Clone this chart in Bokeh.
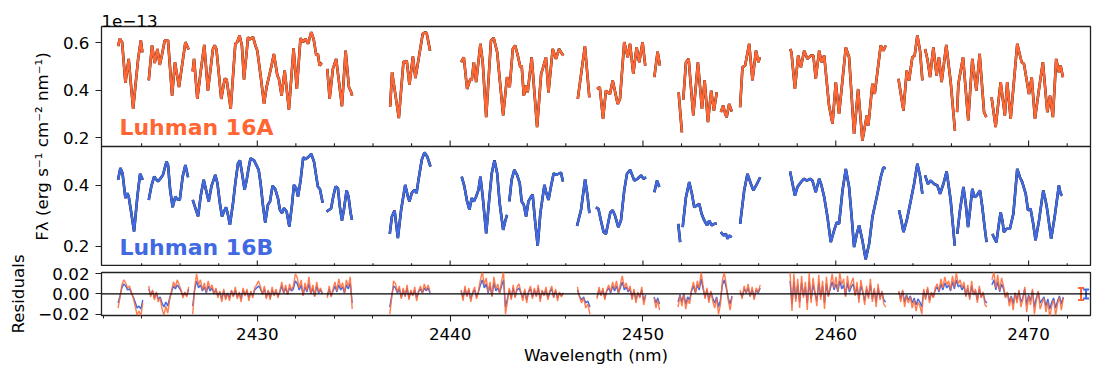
import numpy as np
from bokeh.plotting import figure
from bokeh.models import (Range1d, FixedTicker, SingleIntervalTicker, Label, Span, Title,
                          Whisker, ColumnDataSource, TeeHead)
from bokeh.layouts import column, row
from bokeh.embed import file_html
from bokeh.resources import INLINE

ORANGE = "#FF6633"
BLUE = "#4169E1"
FONT = "DejaVu Sans"
EDGE = "#222222"

# ---------------- data: Luhman 16A (top panel), flux in 1e-13 units ----------------
waveA = [
    [2422.78, 2422.87, 2422.99, 2423.16, 2423.33, 2423.56, 2423.82, 2423.96, 2424.04],
    [2424.37, 2424.54, 2424.68, 2424.82, 2424.94, 2425.03, 2425.20, 2425.37, 2425.58, 2425.73, 2425.94, 2426.27, 2426.44],
    [2426.65, 2426.72, 2426.89, 2427.06, 2427.25, 2427.44, 2427.70, 2427.79, 2427.88, 2428.13, 2428.31, 2428.41, 2428.62,
     2428.86, 2428.96, 2429.08, 2429.20, 2429.31, 2429.52, 2429.60, 2429.78, 2429.90, 2430.00, 2430.17, 2430.35, 2430.48,
     2430.72, 2430.86, 2431.04, 2431.12, 2431.26, 2431.42, 2431.64, 2431.88, 2432.05, 2432.24, 2432.37, 2432.50, 2432.63,
     2432.80, 2432.92, 2433.06, 2433.14, 2433.23, 2433.35],
    [2433.63, 2433.75, 2433.92, 2434.09, 2434.39, 2434.58, 2434.75, 2434.87, 2434.92],
    [2436.89, 2436.99, 2437.34, 2437.58, 2437.69, 2437.75, 2437.89, 2438.07, 2438.20, 2438.58, 2438.72, 2438.79, 2438.96],
    [2440.57, 2440.71, 2440.88, 2441.05, 2441.12, 2441.23, 2441.35, 2441.57, 2441.69, 2441.87, 2442.12, 2442.26, 2442.44,
     2442.75, 2442.95, 2443.09, 2443.25, 2443.37, 2443.51, 2443.64, 2443.71, 2443.82, 2443.94, 2444.02, 2444.23, 2444.51,
     2444.72, 2444.80, 2444.97, 2445.10, 2445.32, 2445.49, 2445.65, 2445.75, 2445.87],
    [2446.62, 2446.99, 2447.22],
    [2447.62, 2447.76, 2447.93, 2448.08, 2448.29, 2448.43, 2448.69, 2448.81, 2449.03, 2449.21, 2449.33, 2449.50, 2449.67,
     2449.81, 2449.98, 2450.12],
    [2450.59, 2450.76, 2450.88],
    [2451.85, 2452.02],
    [2452.09, 2452.23, 2452.37, 2452.61, 2452.85, 2453.06, 2453.20, 2453.37, 2453.54, 2453.68, 2453.83],
    [2454.04, 2454.16, 2454.27, 2454.34, 2454.47, 2454.61],
    [2455.04, 2455.16, 2455.30, 2455.51, 2455.68, 2455.86, 2455.99, 2456.06],
    [2457.63, 2457.70, 2457.88, 2458.05, 2458.19, 2458.36, 2458.53, 2458.70, 2458.84, 2458.96, 2459.14, 2459.26, 2459.40,
     2459.65, 2459.83, 2460.00, 2460.17, 2460.52, 2460.69, 2460.95, 2461.16, 2461.38, 2461.61, 2461.69, 2461.90, 2462.02,
     2462.33, 2462.47, 2462.59],
    [2463.25, 2463.51, 2463.68, 2463.80, 2463.97, 2464.09, 2464.23, 2464.37, 2464.49],
    [2464.63, 2464.75, 2464.89, 2465.06, 2465.23, 2465.35, 2465.49, 2465.73, 2465.96, 2466.18],
    [2466.29, 2466.36, 2466.60, 2466.87, 2467.08, 2467.29, 2467.46, 2467.69, 2467.81],
    [2468.08, 2468.29, 2468.55, 2468.77, 2468.89, 2469.07, 2469.41, 2469.64, 2469.76, 2470.02, 2470.16, 2470.33, 2470.54,
     2470.74, 2470.97, 2471.11, 2471.26, 2471.43, 2471.57, 2471.66, 2471.78],
]
fluxA = [
    [0.586, 0.617, 0.603, 0.431, 0.532, 0.321, 0.532, 0.610, 0.560],
    [0.441, 0.589, 0.515, 0.574, 0.507, 0.539, 0.610, 0.610, 0.377, 0.518, 0.413, 0.603, 0.572],
    [0.479, 0.532, 0.363, 0.476, 0.591, 0.398, 0.574, 0.589, 0.574, 0.363, 0.448, 0.445, 0.321,
     0.596, 0.603, 0.631, 0.589, 0.445, 0.624, 0.614, 0.624, 0.589, 0.567, 0.462, 0.342, 0.413,
     0.497, 0.553, 0.462, 0.448, 0.377, 0.483, 0.318, 0.577, 0.405, 0.620, 0.603, 0.617, 0.596,
     0.645, 0.617, 0.546, 0.553, 0.504, 0.515],
    [0.490, 0.363, 0.490, 0.532, 0.332, 0.567, 0.413, 0.391, 0.377],
    [0.331, 0.476, 0.282, 0.521, 0.518, 0.525, 0.422, 0.543, 0.451, 0.638, 0.645, 0.638, 0.567],
    [0.518, 0.539, 0.405, 0.448, 0.441, 0.518, 0.434, 0.596, 0.518, 0.286, 0.610, 0.620, 0.560,
     0.293, 0.455, 0.413, 0.574, 0.589, 0.546, 0.497, 0.504, 0.377, 0.420, 0.391, 0.539, 0.244,
     0.469, 0.490, 0.539, 0.391, 0.574, 0.532, 0.574, 0.560, 0.546],
    [0.363, 0.586, 0.370],
    [0.405, 0.413, 0.279, 0.398, 0.384, 0.441, 0.342, 0.363, 0.603, 0.539, 0.596, 0.469, 0.581,
     0.518, 0.603, 0.504],
    [0.455, 0.563, 0.504],
    [0.391, 0.222],
    [0.360, 0.518, 0.532, 0.293, 0.518, 0.321, 0.441, 0.265, 0.398, 0.314, 0.391],
    [0.307, 0.335, 0.300, 0.286, 0.342, 0.310],
    [0.328, 0.497, 0.504, 0.596, 0.441, 0.567, 0.518, 0.539],
    [0.574, 0.560, 0.405, 0.546, 0.497, 0.567, 0.532, 0.546, 0.546, 0.448, 0.567, 0.518, 0.546,
     0.335, 0.258, 0.434, 0.300, 0.581, 0.539, 0.215, 0.405, 0.187, 0.293, 0.251, 0.427, 0.384,
     0.589, 0.567, 0.589],
    [0.448, 0.314, 0.483, 0.441, 0.539, 0.546, 0.631, 0.567, 0.441],
    [0.574, 0.532, 0.455, 0.581, 0.462, 0.539, 0.434, 0.591, 0.434, 0.229],
    [0.307, 0.427, 0.539, 0.272, 0.532, 0.398, 0.553, 0.307, 0.286],
    [0.370, 0.244, 0.434, 0.293, 0.434, 0.279, 0.596, 0.518, 0.511, 0.384, 0.455, 0.279, 0.405,
     0.518, 0.307, 0.377, 0.286, 0.532, 0.476, 0.504, 0.455],
]

# ---------------- data: Luhman 16B (middle panel) ----------------
waveB = [
    [2422.78, 2422.90, 2423.01, 2423.16, 2423.26, 2423.33, 2423.44, 2423.61, 2423.78, 2423.92, 2424.06],
    [2424.37, 2424.51, 2424.65, 2424.77, 2424.85, 2424.99, 2425.11, 2425.29, 2425.37, 2425.48, 2425.61, 2425.75,
     2425.85, 2425.98, 2426.13, 2426.27, 2426.41],
    [2426.65, 2426.79, 2426.93, 2427.06, 2427.22, 2427.36, 2427.48, 2427.62, 2427.82, 2427.93, 2428.07, 2428.17,
     2428.27, 2428.38, 2428.48, 2428.58, 2428.74, 2428.86, 2429.00, 2429.10, 2429.21, 2429.34, 2429.45, 2429.55,
     2429.65, 2429.83, 2429.97, 2430.07, 2430.17, 2430.29, 2430.41, 2430.55, 2430.66, 2430.79, 2430.93, 2431.07,
     2431.17, 2431.28, 2431.38, 2431.52, 2431.66, 2431.80, 2431.90, 2432.02, 2432.11, 2432.25, 2432.38, 2432.49,
     2432.63, 2432.80, 2432.94, 2433.06, 2433.14, 2433.25, 2433.39],
    [2433.59, 2433.73, 2433.83, 2433.94, 2434.06, 2434.18, 2434.28, 2434.39, 2434.49, 2434.63, 2434.73, 2434.84,
     2434.91],
    [2436.87, 2436.98, 2437.12, 2437.29, 2437.46, 2437.67, 2437.81, 2437.89, 2438.01, 2438.15, 2438.26, 2438.36,
     2438.53, 2438.67, 2438.81, 2438.98],
    [2440.60, 2440.74, 2440.88, 2441.00, 2441.12, 2441.23, 2441.35, 2441.47, 2441.57, 2441.69, 2441.87, 2442.04,
     2442.16, 2442.30, 2442.44, 2442.57, 2442.75, 2442.85, 2442.95],
    [2443.07, 2443.19, 2443.33, 2443.47, 2443.61, 2443.71, 2443.82, 2443.94, 2444.06, 2444.20, 2444.28, 2444.40,
     2444.54, 2444.68, 2444.89, 2444.99, 2445.10, 2445.23, 2445.37, 2445.49, 2445.61, 2445.75, 2445.85],
    [2446.58, 2446.79, 2447.00, 2447.13, 2447.22],
    [2447.56, 2447.69, 2447.82, 2447.96, 2448.08, 2448.31, 2448.43, 2448.55, 2448.72, 2448.86, 2449.03, 2449.17,
     2449.34, 2449.55, 2449.72, 2449.90, 2450.03, 2450.16],
    [2450.59, 2450.73, 2450.85],
    [2451.83, 2451.93],
    [2452.06, 2452.23, 2452.40, 2452.54, 2452.66, 2452.80, 2452.92, 2453.04, 2453.18, 2453.32, 2453.44, 2453.56,
     2453.70, 2453.83],
    [2454.04, 2454.18, 2454.30, 2454.39, 2454.47, 2454.60],
    [2455.04, 2455.25, 2455.42, 2455.60, 2455.73, 2455.91, 2456.08],
    [2457.63, 2457.76, 2457.88, 2458.01, 2458.19, 2458.36, 2458.50, 2458.67, 2458.79, 2458.96, 2459.14, 2459.26,
     2459.40, 2459.57, 2459.74, 2459.91, 2460.05, 2460.17, 2460.35, 2460.52, 2460.69, 2460.81, 2460.95, 2461.09,
     2461.21, 2461.38, 2461.55, 2461.73, 2461.90, 2462.16, 2462.33, 2462.47, 2462.59],
    [2463.28, 2463.40, 2463.51, 2463.68, 2463.89, 2464.06, 2464.23, 2464.37, 2464.49],
    [2464.63, 2464.78, 2464.92, 2465.10, 2465.27, 2465.41, 2465.58, 2465.75, 2465.96, 2466.17],
    [2466.30, 2466.44, 2466.62, 2466.74, 2466.86, 2466.96, 2467.08, 2467.20, 2467.31, 2467.48, 2467.60, 2467.72,
     2467.82],
    [2468.12, 2468.24, 2468.33, 2468.46, 2468.55, 2468.64, 2468.72, 2468.86, 2469.03, 2469.21, 2469.33, 2469.41,
     2469.55, 2469.67, 2469.85, 2469.97, 2470.10, 2470.24, 2470.36, 2470.54, 2470.76, 2470.88, 2470.97, 2471.17,
     2471.35, 2471.57, 2471.66, 2471.74],
]
fluxB = [
    [0.418, 0.456, 0.439, 0.358, 0.374, 0.363, 0.320, 0.249, 0.363, 0.437, 0.418],
    [0.352, 0.398, 0.428, 0.418, 0.412, 0.423, 0.434, 0.477, 0.466, 0.385, 0.328, 0.363, 0.354, 0.352, 0.428,
     0.466, 0.426],
    [0.352, 0.325, 0.298, 0.363, 0.418, 0.379, 0.347, 0.396, 0.434, 0.407, 0.336, 0.298, 0.314, 0.328, 0.303,
     0.271, 0.341, 0.407, 0.472, 0.481, 0.439, 0.385, 0.418, 0.456, 0.488, 0.481, 0.463, 0.450, 0.407, 0.336,
     0.278, 0.336, 0.347, 0.398, 0.387, 0.358, 0.320, 0.309, 0.325, 0.314, 0.265, 0.336, 0.401, 0.390, 0.363,
     0.418, 0.491, 0.485, 0.491, 0.502, 0.477, 0.428, 0.396, 0.387, 0.343],
    [0.314, 0.320, 0.325, 0.363, 0.396, 0.390, 0.330, 0.285, 0.320, 0.383, 0.363, 0.309, 0.287],
    [0.241, 0.298, 0.317, 0.227, 0.320, 0.401, 0.363, 0.347, 0.374, 0.385, 0.374, 0.418, 0.483, 0.507, 0.494,
     0.461],
    [0.428, 0.396, 0.347, 0.320, 0.358, 0.347, 0.363, 0.385, 0.428, 0.363, 0.243, 0.363, 0.439, 0.481, 0.439,
     0.341, 0.254, 0.281, 0.303],
    [0.347, 0.418, 0.450, 0.434, 0.407, 0.347, 0.336, 0.298, 0.347, 0.363, 0.369, 0.287, 0.202, 0.309, 0.401,
     0.374, 0.352, 0.396, 0.439, 0.434, 0.437, 0.441, 0.412],
    [0.267, 0.320, 0.420, 0.363, 0.309],
    [0.328, 0.323, 0.285, 0.247, 0.241, 0.312, 0.318, 0.301, 0.263, 0.285, 0.383, 0.437, 0.450, 0.415, 0.421,
     0.432, 0.421, 0.426],
    [0.377, 0.415, 0.394],
    [0.274, 0.214],
    [0.263, 0.361, 0.410, 0.372, 0.328, 0.334, 0.339, 0.307, 0.285, 0.269, 0.285, 0.269, 0.274, 0.274],
    [0.247, 0.236, 0.241, 0.225, 0.236, 0.230],
    [0.274, 0.383, 0.437, 0.404, 0.383, 0.404, 0.426],
    [0.445, 0.404, 0.366, 0.394, 0.410, 0.421, 0.415, 0.421, 0.415, 0.377, 0.421, 0.399, 0.361, 0.296, 0.214,
     0.252, 0.279, 0.274, 0.383, 0.453, 0.394, 0.307, 0.198, 0.241, 0.269, 0.220, 0.158, 0.209, 0.296, 0.372,
     0.426, 0.458, 0.455],
    [0.318, 0.285, 0.247, 0.285, 0.350, 0.404, 0.470, 0.430, 0.372],
    [0.432, 0.404, 0.415, 0.404, 0.399, 0.372, 0.404, 0.445, 0.350, 0.203],
    [0.241, 0.318, 0.394, 0.339, 0.263, 0.318, 0.388, 0.361, 0.366, 0.383, 0.328, 0.263, 0.214],
    [0.241, 0.225, 0.214, 0.274, 0.312, 0.285, 0.247, 0.258, 0.258, 0.307, 0.394, 0.453, 0.426, 0.410, 0.372,
     0.318, 0.323, 0.274, 0.220, 0.285, 0.383, 0.350, 0.318, 0.225, 0.296, 0.399, 0.372, 0.366],
]

# ---------------- residuals (units of 1e-3 x 1e-13), read evenly across each chunk ----------------
resid_chunks = [
    (2422.78, 2424.06), (2424.37, 2426.44), (2426.65, 2433.38), (2433.63, 2434.92), (2436.87, 2438.96),
    (2440.57, 2445.87), (2446.60, 2447.25), (2447.62, 2450.14), (2450.58, 2450.86), (2451.82, 2454.62),
    (2455.04, 2456.08), (2457.63, 2462.59), (2463.27, 2467.84), (2468.10, 2471.80),
]
residA = [
    [-14, -4, 9, 14, 11, 6, 8, 2, -4, -12, -21, -17, -22, -9],
    [8, -3, 4, -6, 2, -8, -4, -15, -21, -12, -19, -6, 3, 12, 7, 14, 9, 4, -4, 2, -3, 7],
    [-20, 6, 20, 9, 14, 4, 11, 2, 13, 5, 9, 0, 6, -4, 3, -8, 5, -6, 1, -7, 4, -3, 7, -5, 2, -8, 6, -2,
     5, -7, 3, -4, 6, 9, 13, 7, -1, 8, -5, 4, -6, 7, -2, 5, -4, 3, 12, 1, 9, -1, 10, 4, 8, 20, 16, 6,
     14, -2, 11, 3, 17, 0, 9, -3, 12, 2, 6, 0],
    [-4, 8, -3, 5, 12, 3, 15, 6, 11, 1, 14, 7, 17, -15],
    [-20, -4, 13, 10, 2, 8, -5, 6, -3, 9, -6, 4, -2, 7, -7, 3, 8, 1, 10, 4, 9, 2],
    [4, -7, 8, -3, 6, -8, 2, 7, -5, 3, 14, 22, 9, 16, 2, 12, -3, 17, 5, 10, 1, 13, 22, -20, -8, 6, -6,
     9, -4, 7, 10, 2, -7, 5, -9, 3, 8, -5, 6, -3, 9, -8, 4, -2, 7, -6, 3, 8, -4, 5, -7, 2, -3, 1],
    [7, -3, -9, -4, -14, -10, -20],
    [-5, 7, -2, 6, -6, 4, 9, 2, 12, 5, 13, 1, 10, 18, 6, 11, 3, 8, -6, 5, -9, 2, -4, 7, -11, -2],
    [-4, -14, -6, -16],
    [-13, -2, -12, 0, -15, -5, -10, 4, 12, 1, 13, 6, 22, 8, -5, 6, -9, 3, -7, -14, -4, -20, -10, 14, 21,
     9, -6, -16, -3],
    [4, -5, 8, 1, 10, -3, 7, -6, 6, 2, 9],
    [22, -17, 20, -8, 15, -14, 18, -4, 12, -16, 21, -9, 16, 2, -12, 19, -6, 13, -15, 17, -3, 8, 20, 6,
     17, 3, 21, 9, 15, -3, 18, 4, 11, 16, -2, 12, -9, 14, 3, -11, 8, -5, 15, -8, 6, -13, 10, -6, 3, -10,
     -13],
    [3, -8, 4, -13, -2, -9, -3, -14, -6, -17, -8, -12, -20, 5, -6, 7, -9, 2, -4, 6, 10, 3, 15, 6, 17, 9,
     13, 4, 18, 7, 21, 10, 14, 6, 12, -3, 9, -6, 13, -1, 5, -9, 8, -4, 2, -11, -13],
    [14, 22, 6, 19, 3, 16, 8, -4, 2, -12, -3, -16, 1, -9, 4, -13, -6, 7, -18, -2, -11, 5, -20, -7, 3,
     -15, -9, -4, -18, -8, -23, -12, -6, -21, -10, -3, -16, -4],
]
residB = [
    [-9, -2, 6, 10, 8, 4, 5, 1, -3, -8, -14, -12, -15, -6],
    [5, -1, 3, -4, 1, -5, -3, -9, -13, -8, -12, -4, 2, 8, 5, 9, 6, 3, -2, 1, -2, 5],
    [-12, 4, 13, 6, 9, 3, 7, 1, 8, 3, 6, 0, 4, -2, 2, -5, 3, -4, 1, -4, 3, -2, 4, -3, 1, -5, 4, -1,
     3, -4, 2, -2, 4, 6, 8, 5, 0, 5, -3, 3, -4, 4, -1, 3, -2, 2, 8, 1, 6, 0, 6, 3, 5, 13, 10, 4,
     9, -1, 7, 2, 10, 0, 6, -2, 8, 1, 4, 0],
    [-2, 5, -2, 3, 8, 2, 9, 4, 7, 1, 9, 5, 11, -9],
    [-13, -2, 8, 6, 1, 5, -3, 4, -2, 6, -4, 3, -1, 4, -4, 2, 5, 1, 6, 3, 6, 1],
    [3, -4, 5, -2, 4, -5, 1, 4, -3, 2, 9, 14, 6, 10, 1, 8, -2, 11, 3, 6, 1, 8, 14, -13, -5, 4, -4,
     6, -3, 4, 6, 1, -4, 3, -6, 2, 5, -3, 4, -2, 6, -5, 3, -1, 4, -4, 2, 5, -3, 3, -4, 1, -2, 1],
    [4, -2, -6, -3, -9, -7, -13],
    [-3, 4, -1, 4, -4, 3, 6, 1, 8, 3, 8, 1, 6, 12, 4, 7, 2, 5, -4, 3, -6, 1, -3, 4, -7, -1],
    [-3, -9, -4, -10],
    [-8, -1, -8, 0, -10, -3, -6, 3, 8, 1, 9, 4, 15, 5, -3, 4, -6, 2, -4, -9, -3, -13, -6, 9, 14, 6, -4,
     -10, -2],
    [2, -3, 5, 1, 6, -2, 4, -4, 4, 1, 6],
    [13, -10, 12, -5, 9, -8, 11, -2, 7, -9, 12, -5, 9, 1, -7, 11, -3, 8, -9, 10, -2, 5, 12, 4, 10, 2,
     13, 5, 9, -2, 11, 2, 7, 10, -1, 7, -5, 8, 2, -7, 5, -3, 9, -5, 4, -8, 6, -4, 2, -6, -8],
    [2, -5, 3, -8, -1, -6, -2, -9, -4, -11, -5, -8, -13, 3, -4, 5, -6, 1, -3, 4, 7, 2, 10, 4, 11, 6, 9,
     3, 12, 5, 14, 7, 9, 4, 8, -2, 6, -4, 8, -1, 3, -6, 5, -3, 1, -7, -9],
    [9, 14, 4, 12, 2, 10, 5, -3, 1, -8, -2, -10, 1, -6, 3, -8, -4, 5, -11, -1, -7, 3, -13, -4, 2, -9,
     -6, -3, -12, -5, -15, -8, -4, -14, -7, -2, -10, -3],
]

# typical uncertainties shown at the right edge of the residual panel
err_wave = [2472.72, 2472.98]
err_half = [0.0060, 0.0045]
err_color = [ORANGE, BLUE]

# ---------------- axis limits of the three panels ----------------
XLO, XHI = 2421.92, 2473.21
A_LO, A_HI = 0.162, 0.669
B_LO, B_HI = 0.1347, 0.5263
R_LO, R_HI = -0.0214, 0.0213

# ---------------- geometry (pixels) ----------------
LAB_W = 28                        # strip holding the "Residuals" title
W = 1100 - LAB_W
FL, FR = 100 - LAB_W, 1090 - LAB_W
TOP_H, SPEC_H = 26, 240
RES_GAP, RES_H, RES_BOT = 6, 43, 55
OVERLAP = 4                       # residual canvas reaches 4 px up (transparent) so its top tick label fits
TOTAL_H = TOP_H + SPEC_H + RES_GAP + RES_H + RES_BOT
apx = (A_HI - A_LO) / (SPEC_H / 2)
bpx = (B_HI - B_LO) / (SPEC_H / 2)
A_full_lo = A_HI - SPEC_H * apx


def from_B(v):
    return A_full_lo + (v - B_LO) / bpx * apx


xr = Range1d(XLO, XHI)

# ================= spectra figure (two panels sharing one frame) =================
p = figure(width=W, height=TOP_H + SPEC_H, x_range=xr, y_range=Range1d(A_full_lo, A_HI),
           x_axis_location=None, output_backend="svg", toolbar_location=None,
           min_border_left=FL, min_border_right=W - FR, min_border_top=TOP_H, min_border_bottom=0)
p.extra_y_ranges = {"B": Range1d(B_LO, B_LO + SPEC_H * bpx)}
p.grid.visible = False
p.outline_line_color = EDGE
p.outline_line_width = 1.3
p.background_fill_color = "white"
p.border_fill_color = "white"

p.multi_line(waveA, fluxA, line_color="black", line_width=2.6)
p.multi_line(waveA, fluxA, line_color=ORANGE, line_width=2.4)
p.multi_line(waveB, fluxB, line_color="black", line_width=2.6, y_range_name="B")
p.multi_line(waveB, fluxB, line_color=BLUE, line_width=2.4, y_range_name="B")

p.add_layout(Span(location=A_LO, dimension="width", line_color=EDGE, line_width=1.3))

tick_w = list(range(2424, 2474, 2))
tick_len = [6.0 if w % 10 == 0 else 3.3 for w in tick_w]
p.segment(x0=tick_w, x1=tick_w, y0=[A_LO] * len(tick_w),
          y1=[A_LO + L * apx for L in tick_len], line_color=EDGE, line_width=1.1)
p.segment(x0=tick_w, x1=tick_w, y0=[B_LO] * len(tick_w),
          y1=[B_LO + L * bpx for L in tick_len], y_range_name="B", line_color=EDGE, line_width=1.1)

ticksA = [0.2, 0.4, 0.6]
ticksB = [0.2, 0.4]
tpos, overrides = [], {}
for v in ticksA:
    tpos.append(v)
    overrides[v] = f"{v:.1f}"
for v in ticksB:
    pos = from_B(v)
    tpos.append(pos)
    overrides[pos] = f"{v:.1f}"

ya = p.yaxis[0]
ya.ticker = FixedTicker(ticks=tpos, minor_ticks=[])
ya.major_label_overrides = overrides
ya.axis_line_color = None
ya.major_tick_out = 6
ya.major_tick_in = 0
ya.major_tick_line_color = EDGE
ya.major_tick_line_width = 1.1
ya.major_label_standoff = 6
ya.major_label_text_font = FONT
ya.major_label_text_font_size = "16.7px"
ya.major_label_text_color = "black"
ya.axis_label = "Fλ (erg s⁻¹ cm⁻² nm⁻¹)"
ya.axis_label_text_font = FONT
ya.axis_label_text_font_size = "16.7px"
ya.axis_label_text_font_style = "normal"
ya.axis_label_text_color = "black"
ya.axis_label_standoff = 8

# scale factor of the flux axis, shown above the top-left corner of the frame
p.add_layout(Title(text="1e−13", align="left", text_font=FONT, text_font_size="16.7px",
                   text_font_style="normal", text_color="black", standoff=0, offset=0), "above")
p.add_layout(Label(x=2422.85, y=0.2406, text="Luhman 16A", text_font=FONT,
                   text_font_size="22px", text_font_style="bold", text_color=ORANGE,
                   text_baseline="middle"))
p.add_layout(Label(x=2422.85, y=0.1954, y_range_name="B", text="Luhman 16B", text_font=FONT,
                   text_font_size="22px", text_font_style="bold", text_color=BLUE,
                   text_baseline="middle"))

# ================= residual figure =================
r = figure(width=W, height=OVERLAP + RES_GAP + RES_H + RES_BOT, x_range=xr, y_range=Range1d(R_LO, R_HI),
           output_backend="svg", toolbar_location=None,
           min_border_left=FL, min_border_right=W - FR, min_border_top=OVERLAP + RES_GAP,
           min_border_bottom=RES_BOT)
r.margin = (-OVERLAP, 0, 0, 0)
r.grid.visible = False
r.outline_line_color = EDGE
r.outline_line_width = 1.3
r.background_fill_color = "white"
r.border_fill_color = None

rxB = [list(np.linspace(lo, hi, len(v))) for (lo, hi), v in zip(resid_chunks, residB)]
r.multi_line(rxB, [[x * 1e-3 for x in v] for v in residB], line_color=BLUE, line_width=1.4)
rxA = [list(np.linspace(lo, hi, len(v))) for (lo, hi), v in zip(resid_chunks, residA)]
r.multi_line(rxA, [[x * 1e-3 for x in v] for v in residA], line_color=ORANGE, line_width=1.4, line_alpha=0.85)
r.add_layout(Span(location=0.0, dimension="width", line_color="black", line_width=1.2))

for w, h, c in zip(err_wave, err_half, err_color):
    src = ColumnDataSource(dict(x=[w], up=[h], lo=[-h]))
    r.add_layout(Whisker(source=src, base="x", upper="up", lower="lo", dimension="height",
                         line_color=c, line_width=2.0,
                         upper_head=TeeHead(size=6, line_color=c, line_width=2.0),
                         lower_head=TeeHead(size=6, line_color=c, line_width=2.0)))

ry = r.yaxis[0]
ry.ticker = FixedTicker(ticks=[-0.02, 0.0, 0.02], minor_ticks=[])
ry.major_label_overrides = {-0.02: "−0.02", 0.0: "0.00", 0.02: "0.02"}
ry.axis_line_color = None
ry.major_tick_out = 6
ry.major_tick_in = 0
ry.major_tick_line_color = EDGE
ry.major_tick_line_width = 1.1
ry.major_label_standoff = 6
ry.major_label_text_font = FONT
ry.major_label_text_font_size = "16.7px"
ry.major_label_text_color = "black"

rxa = r.xaxis[0]
rxa.ticker = SingleIntervalTicker(interval=10, num_minor_ticks=5)
rxa.axis_line_color = None
rxa.major_tick_out = 6
rxa.major_tick_in = 0
rxa.minor_tick_out = 3
rxa.minor_tick_in = 0
rxa.major_tick_line_color = EDGE
rxa.minor_tick_line_color = EDGE
rxa.major_tick_line_width = 1.1
rxa.minor_tick_line_width = 1.0
rxa.major_label_standoff = 6
rxa.major_label_text_font = FONT
rxa.major_label_text_font_size = "16.7px"
rxa.major_label_text_color = "black"
rxa.axis_label = "Wavelength (nm)"
rxa.axis_label_text_font = FONT
rxa.axis_label_text_font_size = "16.7px"
rxa.axis_label_text_font_style = "normal"
rxa.axis_label_text_color = "black"
rxa.axis_label_standoff = 2

# ================= narrow strip on the left carrying the "Residuals" axis title =================
lab = figure(width=LAB_W, height=TOTAL_H, x_range=Range1d(0, 1), y_range=Range1d(R_LO, R_HI),
             x_axis_location=None, output_backend="svg", toolbar_location=None,
             min_border_left=LAB_W - 1, min_border_right=0,
             min_border_top=TOP_H + SPEC_H + RES_GAP, min_border_bottom=RES_BOT)
lab.grid.visible = False
lab.outline_line_color = None
lab.background_fill_color = "white"
lab.border_fill_color = "white"
la = lab.yaxis[0]
la.ticker = FixedTicker(ticks=[], minor_ticks=[])
la.axis_line_color = None
la.major_tick_out = 0
la.major_tick_in = 0
la.major_label_standoff = 0
la.axis_label = "Residuals"
la.axis_label_text_font = FONT
la.axis_label_text_font_size = "16.7px"
la.axis_label_text_font_style = "normal"
la.axis_label_text_color = "black"
la.axis_label_standoff = 0

layout = row(lab, column(p, r, spacing=0), spacing=0)
open("out.html", "w").write(file_html(layout, INLINE))
